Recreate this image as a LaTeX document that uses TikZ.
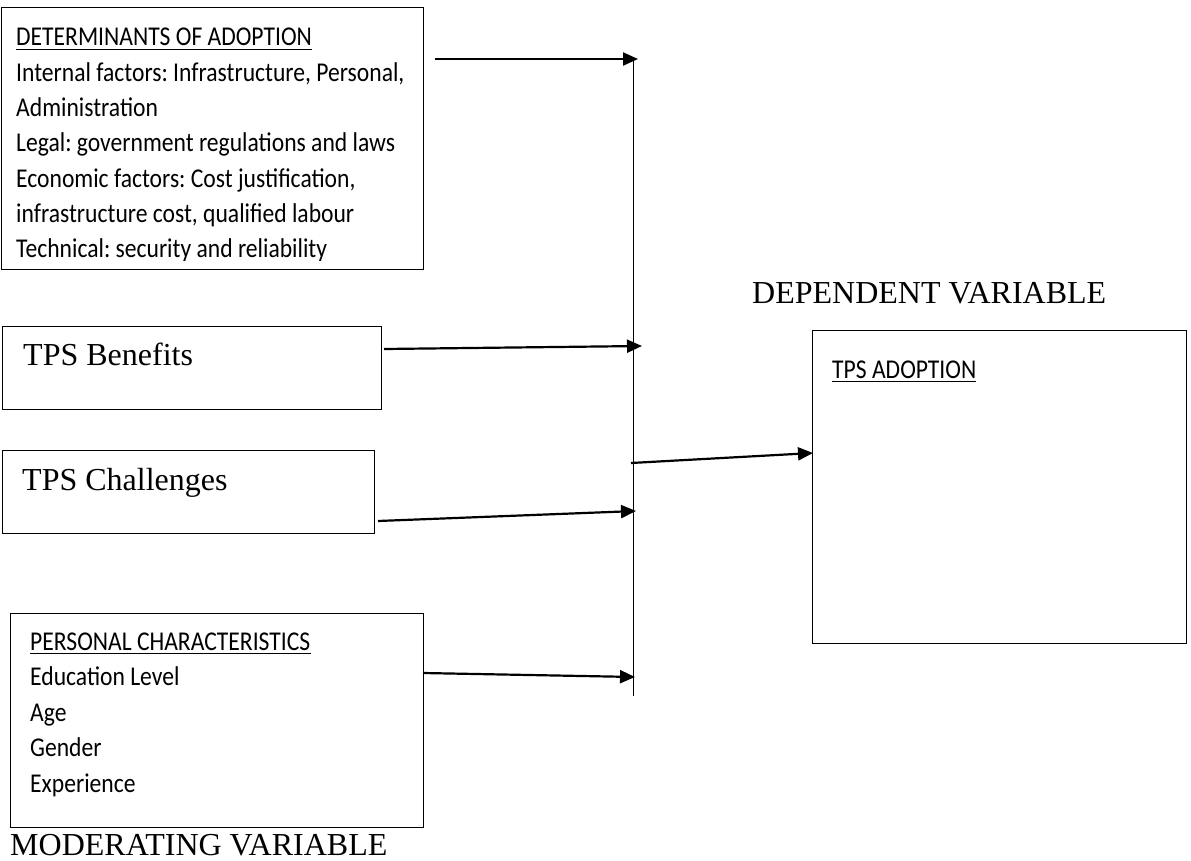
\documentclass[tikz,border=0pt]{standalone}
\usepackage{fontspec}
\setmainfont{Liberation Serif}
\newfontfamily\calibri{Carlito}
\usetikzlibrary{positioning}
\usetikzlibrary{arrows.meta}
\newcommand{\tallsans}[1]{\scalebox{1}[1.15]{#1}}
\frenchspacing

\begin{document}
\begin{tikzpicture}[x=1pt,y=-1pt,
 frame/.style={draw,line width=1.3pt,anchor=north west,inner sep=0pt},
 sanstext/.style={anchor=base west,inner sep=0pt,font=\calibri\fontsize{23.6}{35}\selectfont},
 seriftext/.style={anchor=base west,inner sep=0pt,font=\fontsize{32}{38}\selectfont},
 link/.style={line width=2.2pt,-{Triangle[length=15pt,width=13pt]}},
 uline/.style={line width=1.6pt}]
 \useasboundingbox (0,0) rectangle (1191,861);
 % boxes
 \node[frame,minimum width=422pt,minimum height=262pt] (det) at (0.7,7) {};
 \node[frame,minimum width=379pt,minimum height=83pt] (ben) at (2,326) {};
 \node[frame,minimum width=372pt,minimum height=83pt] (chal) at (2,450) {};
 \node[frame,minimum width=413pt,minimum height=214pt] (pers) at (10,613) {};
 \node[frame,minimum width=374pt,minimum height=313pt] (adopt) at (812,330) {};
 % determinants text, cut off inside the box
 \begin{scope}
 \clip (det.north west) rectangle ([yshift=10pt]det.south east);
 \foreach \txt [count=\i from 0] in {DETERMINANTS OF ADOPTION,{Internal factors: Infrastructure, Personal,},Administration,Legal: government regulations and laws,{Economic factors: Cost justification,},{infrastructure cost, qualified labour},Technical: security and reliability}
 \node[sanstext] (det\i) at (16,46+35.3*\i) {\tallsans{\txt}};
 \end{scope}
 \draw[uline] ([yshift=-3.5pt]det0.base west) -- ([yshift=-3.5pt]det0.base east);
 % personal characteristics text
 \foreach \txt [count=\i from 0] in {PERSONAL CHARACTERISTICS,Education Level,Age,Gender,Experience}
 \node[sanstext] (pers\i) at (30,650+35.5*\i) {\tallsans{\txt}};
 \draw[uline] ([yshift=-3.5pt]pers0.base west) -- ([yshift=-3.5pt]pers0.base east);
 \node[sanstext] (adopttxt) at (832,378) {\tallsans{TPS ADOPTION}};
 \draw[uline] ([yshift=-3.5pt]adopttxt.base west) -- ([yshift=-3.5pt]adopttxt.base east);
 \node[seriftext] (bentxt) at (23,365) {TPS Benefits};
 \node[seriftext] (chaltxt) at (22,490) {TPS Challenges};
 \node[seriftext] (deplabel) at (752,303) {DEPENDENT VARIABLE};
 \node[seriftext] (modlabel) at (10,855) {MODERATING VARIABLE};
 % collecting line
 \coordinate (bar top) at (633.5,59);
 \coordinate (bar bottom) at (633.5,696);
 \draw[line width=1.3pt] (bar top) -- (bar bottom);
 % arrows
 \coordinate (d1) at (435,59);  \coordinate (d2) at (638,59);
 \coordinate (b1) at (384,349); \coordinate (b2) at (642,346);
 \coordinate (c1) at (378,521); \coordinate (c2) at (636,511);
 \coordinate (p1) at (423,673); \coordinate (p2) at (635,677);
 \coordinate (m1) at (631,463); \coordinate (m2) at (813,453);
 \draw[link] (d1) -- (d2);
 \draw[link] (b1) -- (b2);
 \draw[link] (c1) -- (c2);
 \draw[link] (p1) -- (p2);
 \draw[link] (m1) -- (m2);
\end{tikzpicture}
\end{document}
